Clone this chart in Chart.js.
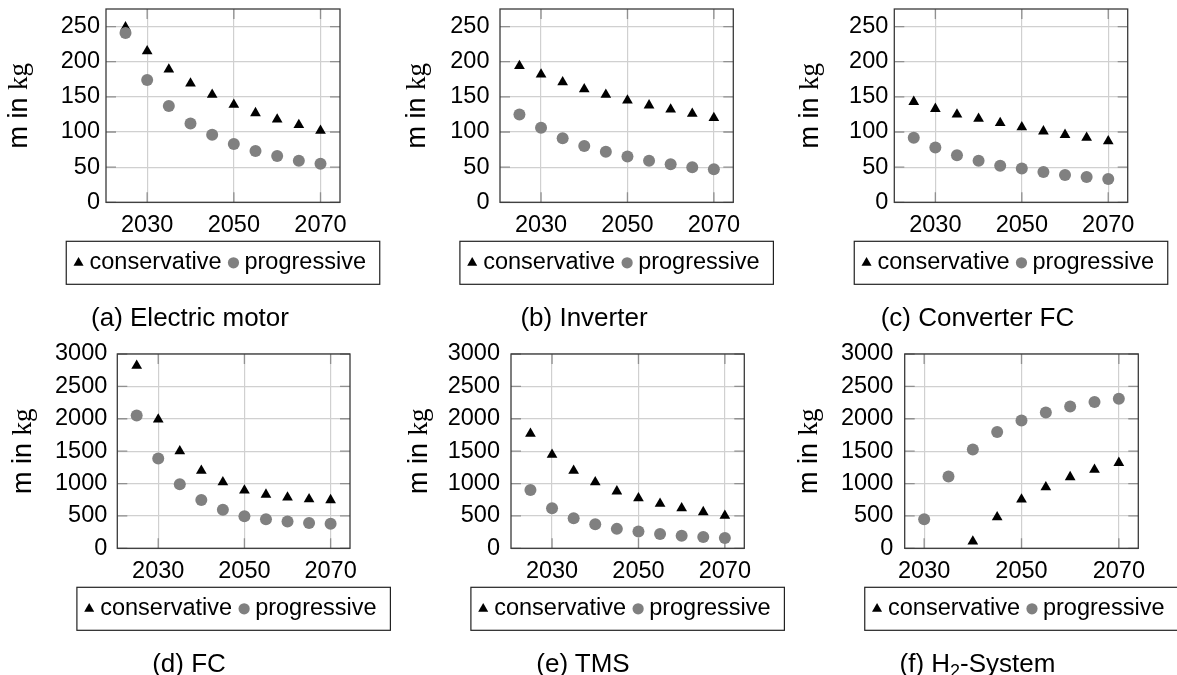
<!DOCTYPE html>
<html>
<head>
<meta charset="utf-8">
<script src="https://cdn.jsdelivr.net/npm/chart.js@4.4.1/dist/chart.umd.min.js"></script>
<style>
  html, body { margin: 0; padding: 0; background: #fff; overflow: hidden; width: 1177px; height: 675px; position: relative; }
  canvas { position: absolute; }
  .caption { position: absolute; width: 340px; text-align: center; font-family: "Liberation Sans", Arial, sans-serif; font-size: 26px; line-height: 26px; color: #000; white-space: nowrap; }
  .caption sub { font-size: 18px; line-height: 0; vertical-align: -5px; }
</style>
</head>
<body>
<script>
// jahre und achsenbeschriftung
const years = [2025, 2030, 2035, 2040, 2045, 2050, 2055, 2060, 2065, 2070];
const yearTicks = [2030, 2050, 2070];
const kgTicksSmall = [0, 50, 100, 150, 200, 250];
const kgTicksLarge = [0, 500, 1000, 1500, 2000, 2500, 3000];
const seriesNames = ['conservative', 'progressive'];

// masse in kg je komponente
const motorConservative = [249, 215, 189, 169, 153, 139, 127, 118, 110, 102];
const motorProgressive = [241, 174, 137, 112, 96, 83, 73, 66, 59, 55];
const inverterConservative = [194, 182, 171, 161, 153, 145, 138, 132, 126, 120];
const inverterProgressive = [125, 106, 91, 80, 72, 65, 59, 54, 50, 47];
const converterConservative = [143, 133, 125, 119, 113, 107, 101, 96, 92, 87];
const converterProgressive = [92, 78, 67, 59, 52, 48, 43, 39, 36, 33];
const fcConservative = [2820, 1990, 1500, 1200, 1020, 895, 830, 785, 760, 745];
const fcProgressive = [2050, 1385, 990, 745, 595, 495, 450, 415, 390, 380];
const tmsConservative = [1770, 1445, 1200, 1020, 880, 775, 690, 620, 560, 505];
const tmsProgressive = [900, 620, 465, 370, 300, 260, 220, 195, 175, 160];
const h2Conservative = [null, null, null, 105, 480, 755, 945, 1100, 1215, 1320];
const h2Progressive = [null, 450, 1110, 1525, 1795, 1975, 2095, 2190, 2260, 2310];

const captions = ['(a) Electric motor', '(b) Inverter', '(c) Converter FC', '(d) FC', '(e) TMS', '(f) H<sub>2</sub>-System'];

const SANS = '"Liberation Sans", Arial, Helvetica, sans-serif';
const SERIF = '"Liberation Serif", "DejaVu Serif", serif';
const GRAY = '#808080';

// position der plots: [links, oben, rechts, unten]
const panels = [
  { cons: motorConservative, prog: motorProgressive, yTicks: kgTicksSmall, yMax: 275, xMin: 2020.5, xMax: 2074.5,
    box: [0, 0, 400, 337], plot: [106, 9, 340, 202.3], tickPad: 6, titleGap: 78.7, capX: 190, capY: 304 },
  { cons: inverterConservative, prog: inverterProgressive, yTicks: kgTicksSmall, yMax: 275, xMin: 2020.5, xMax: 2074.5,
    box: [392, 0, 400, 337], plot: [500, 9, 733.3, 202.3], tickPad: 10.5, titleGap: 75, capX: 584, capY: 304 },
  { cons: converterConservative, prog: converterProgressive, yTicks: kgTicksSmall, yMax: 275, xMin: 2020.5, xMax: 2074.5,
    box: [784, 0, 400, 337], plot: [894.3, 9, 1127.7, 202.3], tickPad: 6, titleGap: 76.3, capX: 977.5, capY: 304 },
  { cons: fcConservative, prog: fcProgressive, yTicks: kgTicksLarge, yMax: 3000, xMin: 2020.5, xMax: 2074.5,
    box: [0, 337, 400, 338], plot: [117.3, 354, 350, 548.3], tickPad: 10, titleGap: 86, capX: 189, capY: 650 },
  { cons: tmsConservative, prog: tmsProgressive, yTicks: kgTicksLarge, yMax: 3000, xMin: 2020.5, xMax: 2074.5,
    box: [392, 337, 400, 338], plot: [511, 354, 744.3, 548.3], tickPad: 11, titleGap: 84, capX: 583, capY: 650 },
  { cons: h2Conservative, prog: h2Progressive, yTicks: kgTicksLarge, yMax: 3000, xMin: 2026, xMax: 2074,
    box: [784, 337, 400, 338], plot: [904.7, 354, 1138.3, 548.3], tickPad: 11.5, titleGap: 87.7, capX: 977.5, capY: 650 }
];

function pairs(xs, ys) {
  return xs.map((x, i) => ({ x: x, y: ys[i] }));
}

function marker(ctx, style, x, y, r, color) {
  ctx.fillStyle = color;
  ctx.beginPath();
  if (style === 'triangle') {
    ctx.moveTo(x, y - r);
    ctx.lineTo(x + r * Math.sin(2 * Math.PI / 3), y - r * Math.cos(2 * Math.PI / 3));
    ctx.lineTo(x + r * Math.sin(4 * Math.PI / 3), y - r * Math.cos(4 * Math.PI / 3));
    ctx.closePath();
  } else {
    ctx.arc(x, y, r, 0, Math.PI * 2);
  }
  ctx.fill();
}

// rahmen, innere ticks, y-titel und legende im pgfplots-stil
const pgfStyle = {
  id: 'pgfStyle',
  beforeDatasetsDraw(chart, args, opts) {
    const { ctx, chartArea: a, scales } = chart;
    ctx.save();
    ctx.strokeStyle = '#909090';
    ctx.lineWidth = 1.3;
    ctx.beginPath();
    scales.y.ticks.forEach(t => {
      const py = scales.y.getPixelForValue(t.value);
      ctx.moveTo(a.left, py); ctx.lineTo(a.left + 10, py);
      ctx.moveTo(a.right, py); ctx.lineTo(a.right - 10, py);
    });
    scales.x.ticks.forEach(t => {
      const px = scales.x.getPixelForValue(t.value);
      ctx.moveTo(px, a.top); ctx.lineTo(px, a.top + 10);
      ctx.moveTo(px, a.bottom); ctx.lineTo(px, a.bottom - 10);
    });
    ctx.stroke();
    ctx.strokeStyle = '#3a3a3a';
    ctx.lineWidth = 1.3;
    ctx.strokeRect(a.left, a.top, a.right - a.left, a.bottom - a.top);
    ctx.restore();
  },
  afterDraw(chart, args, opts) {
    const { ctx, chartArea: a } = chart;
    ctx.save();

    // y-achsentitel "m in kg", kg in serifenschrift
    ctx.translate(a.left - opts.titleGap, (a.top + a.bottom) / 2);
    ctx.rotate(-Math.PI / 2);
    ctx.fillStyle = '#000';
    ctx.textBaseline = 'alphabetic';
    ctx.font = '27px ' + SANS;
    const w1 = ctx.measureText('m in ').width;
    ctx.font = '27px ' + SERIF;
    const w2 = ctx.measureText('kg').width;
    const x0 = -(w1 + w2) / 2;
    ctx.font = '27px ' + SANS;
    ctx.fillText('m in ', x0, 0);
    ctx.font = '27px ' + SERIF;
    ctx.fillText('kg', x0 + w1, 0);
    ctx.setTransform(1, 0, 0, 1, 0, 0);

    // legende mit rahmen
    ctx.font = '23.5px ' + SANS;
    const ds = chart.data.datasets;
    const tw = ds.map(d => ctx.measureText(d.label).width);
    const boxW = 23.3 + tw[0] + 23 + tw[1] + 13.8;
    const boxH = 43;
    const left = (a.left + a.right) / 2 - boxW / 2;
    const top = a.bottom + 39;
    ctx.strokeStyle = '#222';
    ctx.lineWidth = 1.2;
    ctx.strokeRect(left, top, boxW, boxH);
    let x = left + 12.3;
    ds.forEach((d, i) => {
      marker(ctx, d.pointStyle, x, top + 21.5, d.pointRadius - 0.4, d.backgroundColor);
      ctx.fillStyle = '#000';
      ctx.fillText(d.label, x + 11, top + 28);
      x += 11 + tw[i] + 12;
    });
    ctx.restore();
  }
};

Chart.defaults.font.family = SANS;
Chart.defaults.font.size = 23.5;
Chart.defaults.color = '#000';

panels.forEach((p, i) => {
  const [bx, by, bw, bh] = p.box;
  const [pl, pt, pr, pb] = p.plot;
  const xAxisH = 34;

  const canvas = document.createElement('canvas');
  canvas.width = bw;
  canvas.height = bh;
  canvas.style.left = bx + 'px';
  canvas.style.top = by + 'px';
  document.body.appendChild(canvas);

  const cap = document.createElement('div');
  cap.className = 'caption';
  cap.innerHTML = captions[i];
  cap.style.left = (p.capX - 170) + 'px';
  cap.style.top = p.capY + 'px';
  document.body.appendChild(cap);

  new Chart(canvas.getContext('2d'), {
    type: 'scatter',
    data: {
      datasets: [
        { label: seriesNames[0], data: pairs(years, p.cons), pointStyle: 'triangle', pointRadius: 6.2,
          backgroundColor: '#000', borderWidth: 0, order: 1 },
        { label: seriesNames[1], data: pairs(years, p.prog), pointStyle: 'circle', pointRadius: 6,
          backgroundColor: GRAY, borderWidth: 0, order: 0 }
      ]
    },
    options: {
      responsive: false,
      devicePixelRatio: 1,
      animation: false,
      events: [],
      layout: {
        padding: { left: 0, top: pt - by, right: bx + bw - pr, bottom: by + bh - pb - xAxisH }
      },
      scales: {
        x: {
          type: 'linear', min: p.xMin, max: p.xMax, bounds: 'data',
          border: { display: false },
          grid: { color: '#d0d0d0', lineWidth: 1.2, drawTicks: false },
          ticks: { padding: 9, maxRotation: 0, autoSkip: false, callback: v => String(v) },
          afterBuildTicks: s => { s.ticks = yearTicks.map(v => ({ value: v })); },
          afterFit: s => { s.height = xAxisH; s.paddingLeft = 0; s.paddingRight = 0; }
        },
        y: {
          type: 'linear', min: 0, max: p.yMax, bounds: 'data',
          border: { display: false },
          grid: { color: '#d0d0d0', lineWidth: 1.2, drawTicks: false },
          ticks: { padding: p.tickPad, callback: v => String(v) },
          afterBuildTicks: s => { s.ticks = p.yTicks.map(v => ({ value: v })); },
          afterFit: s => { s.width = pl - bx; s.paddingTop = 0; s.paddingBottom = 0; }
        }
      },
      plugins: {
        legend: { display: false },
        tooltip: { enabled: false },
        pgfStyle: { titleGap: p.titleGap }
      }
    },
    plugins: [pgfStyle]
  });
});
</script>
</body>
</html>
